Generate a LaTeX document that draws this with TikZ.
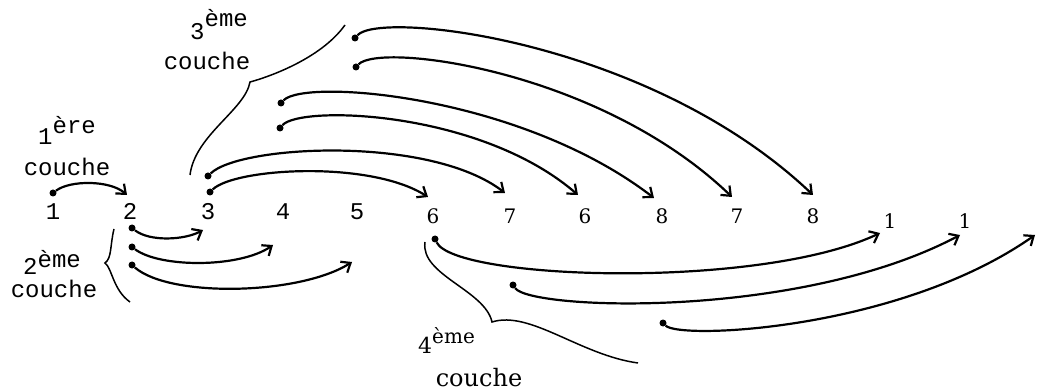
\documentclass[tikz,border=0pt]{standalone}
\usepackage{fontspec}
\setmonofont{Liberation Mono}
\newfontfamily\serifnum{DejaVu Serif}
\usetikzlibrary{arrows.meta}

\begin{document}
\begin{tikzpicture}[
    x=1pt, y=-1pt,
    num/.style={font=\ttfamily\fontsize{24}{24}\selectfont, anchor=base, inner sep=0pt},
    rnum/.style={font=\serifnum\fontsize{20}{20}\selectfont, anchor=base, inner sep=0pt},
    lbl/.style={font=\ttfamily\fontsize{24}{24}\selectfont, inner sep=0pt},
    lblser/.style={font=\serifnum\fontsize{22}{22}\selectfont, inner sep=0pt},
    dot/.style={circle, fill, inner sep=0pt, minimum size=7pt},
    link/.style={draw, line width=2.2pt, -{Straight Barb[length=8pt, width=13pt]}},
    brace/.style={draw, line width=1.5pt}
]
\useasboundingbox (0,0) rectangle (1039,390);

\foreach \n/\x in {1/53, 2/130, 3/208, 4/283, 5/357}
    \node[num] (n\n) at (\x,220) {\n};
\foreach \n/\x/\y/\t in {6/433/224/6, 7/510/224/7, 8/585/224/6, 9/662/224/8, 10/737/224/7, 11/813/224/8, 12/890/229/1, 13/965/229/1}
    \node[rnum] (n\n) at (\x,\y) {\t};

\node[lbl, anchor=base west] (ord1) at (38,145) {1\raisebox{11pt}{ère}};
\node[lbl, anchor=base] (cou1) at (67,176) {couche};
\node[lbl, anchor=base west] (ord2) at (23,275) {2\raisebox{8pt}{ème}};
\node[lbl, anchor=base] (cou2) at (54,297) {couche};
\node[lbl, anchor=base west] (ord3) at (190,40) {3\raisebox{13pt}{ème}};
\node[lbl, anchor=base] (cou3) at (207,70) {couche};
\node[lblser, anchor=base west] (ord4) at (418,353) {4\raisebox{10pt}{\fontsize{20}{20}\selectfont ème}};
\node[lblser, anchor=base] (cou4) at (479,386) {\fontsize{24}{24}\selectfont couche};

\node[dot] (d1) at (53,193) {};
\node[dot] (d2a) at (132,228) {};
\node[dot] (d2b) at (132,247) {};
\node[dot] (d2c) at (132,265) {};
\node[dot] (d3a) at (210,192) {};
\node[dot] (d3b) at (208,176) {};
\node[dot] (d3c) at (280,128) {};
\node[dot] (d3d) at (281,103) {};
\node[dot] (d3e) at (356,67) {};
\node[dot] (d3f) at (355,38) {};
\node[dot] (d4a) at (435,239) {};
\node[dot] (d4b) at (513,285) {};
\node[dot] (d4c) at (663,323) {};

\coordinate (t1) at (127,195);
\coordinate (t2a) at (203,230);
\coordinate (t2b) at (273,245);
\coordinate (t2c) at (352,262);
\coordinate (t3a) at (428,197);
\coordinate (t3b) at (505,193);
\coordinate (t3c) at (578,195);
\coordinate (t3d) at (654,198);
\coordinate (t3e) at (732,197);
\coordinate (t3f) at (813,195);
\coordinate (t4a) at (880,233);
\coordinate (t4b) at (960,235);
\coordinate (t4c) at (1035,235);

\draw[link] (d1) .. controls (70,180) and (110,180) .. (t1);

\draw[link] (d2a) .. controls (150,242) and (185,240) .. (t2a);
\draw[link] (d2b) .. controls (160,268) and (240,268) .. (t2b);
\draw[link] (d2c) .. controls (170,298) and (300,295) .. (t2c);

\draw[link] (d3a) .. controls (235,168) and (370,160) .. (t3a);
\draw[link] (d3b) .. controls (240,145) and (430,135) .. (t3b);
\draw[link] (d3c) .. controls (300,105) and (480,110) .. (t3c);
\draw[link] (d3d) .. controls (305,78) and (520,95) .. (t3d);
\draw[link] (d3e) .. controls (380,42) and (600,70) .. (t3e);
\draw[link] (d3f) .. controls (380,10) and (650,40) .. (t3f);

\draw[link] (d4a) .. controls (455,280) and (760,290) .. (t4a);
\draw[link] (d4b) .. controls (530,310) and (800,320) .. (t4b);
\draw[link] (d4c) .. controls (680,340) and (900,330) .. (t4c);

\draw[brace] (114,229) .. controls (110,245) and (112,258) .. (105,263) .. controls (112,268) and (113,290) .. (130,302);
\draw[brace] (190,175) .. controls (195,135) and (245,110) .. (250,82) .. controls (265,78) and (320,60) .. (345,25);
\draw[brace] (425,242) .. controls (420,275) and (485,290) .. (492,322) .. controls (530,310) and (580,355) .. (638,363);

\end{tikzpicture}
\end{document}
